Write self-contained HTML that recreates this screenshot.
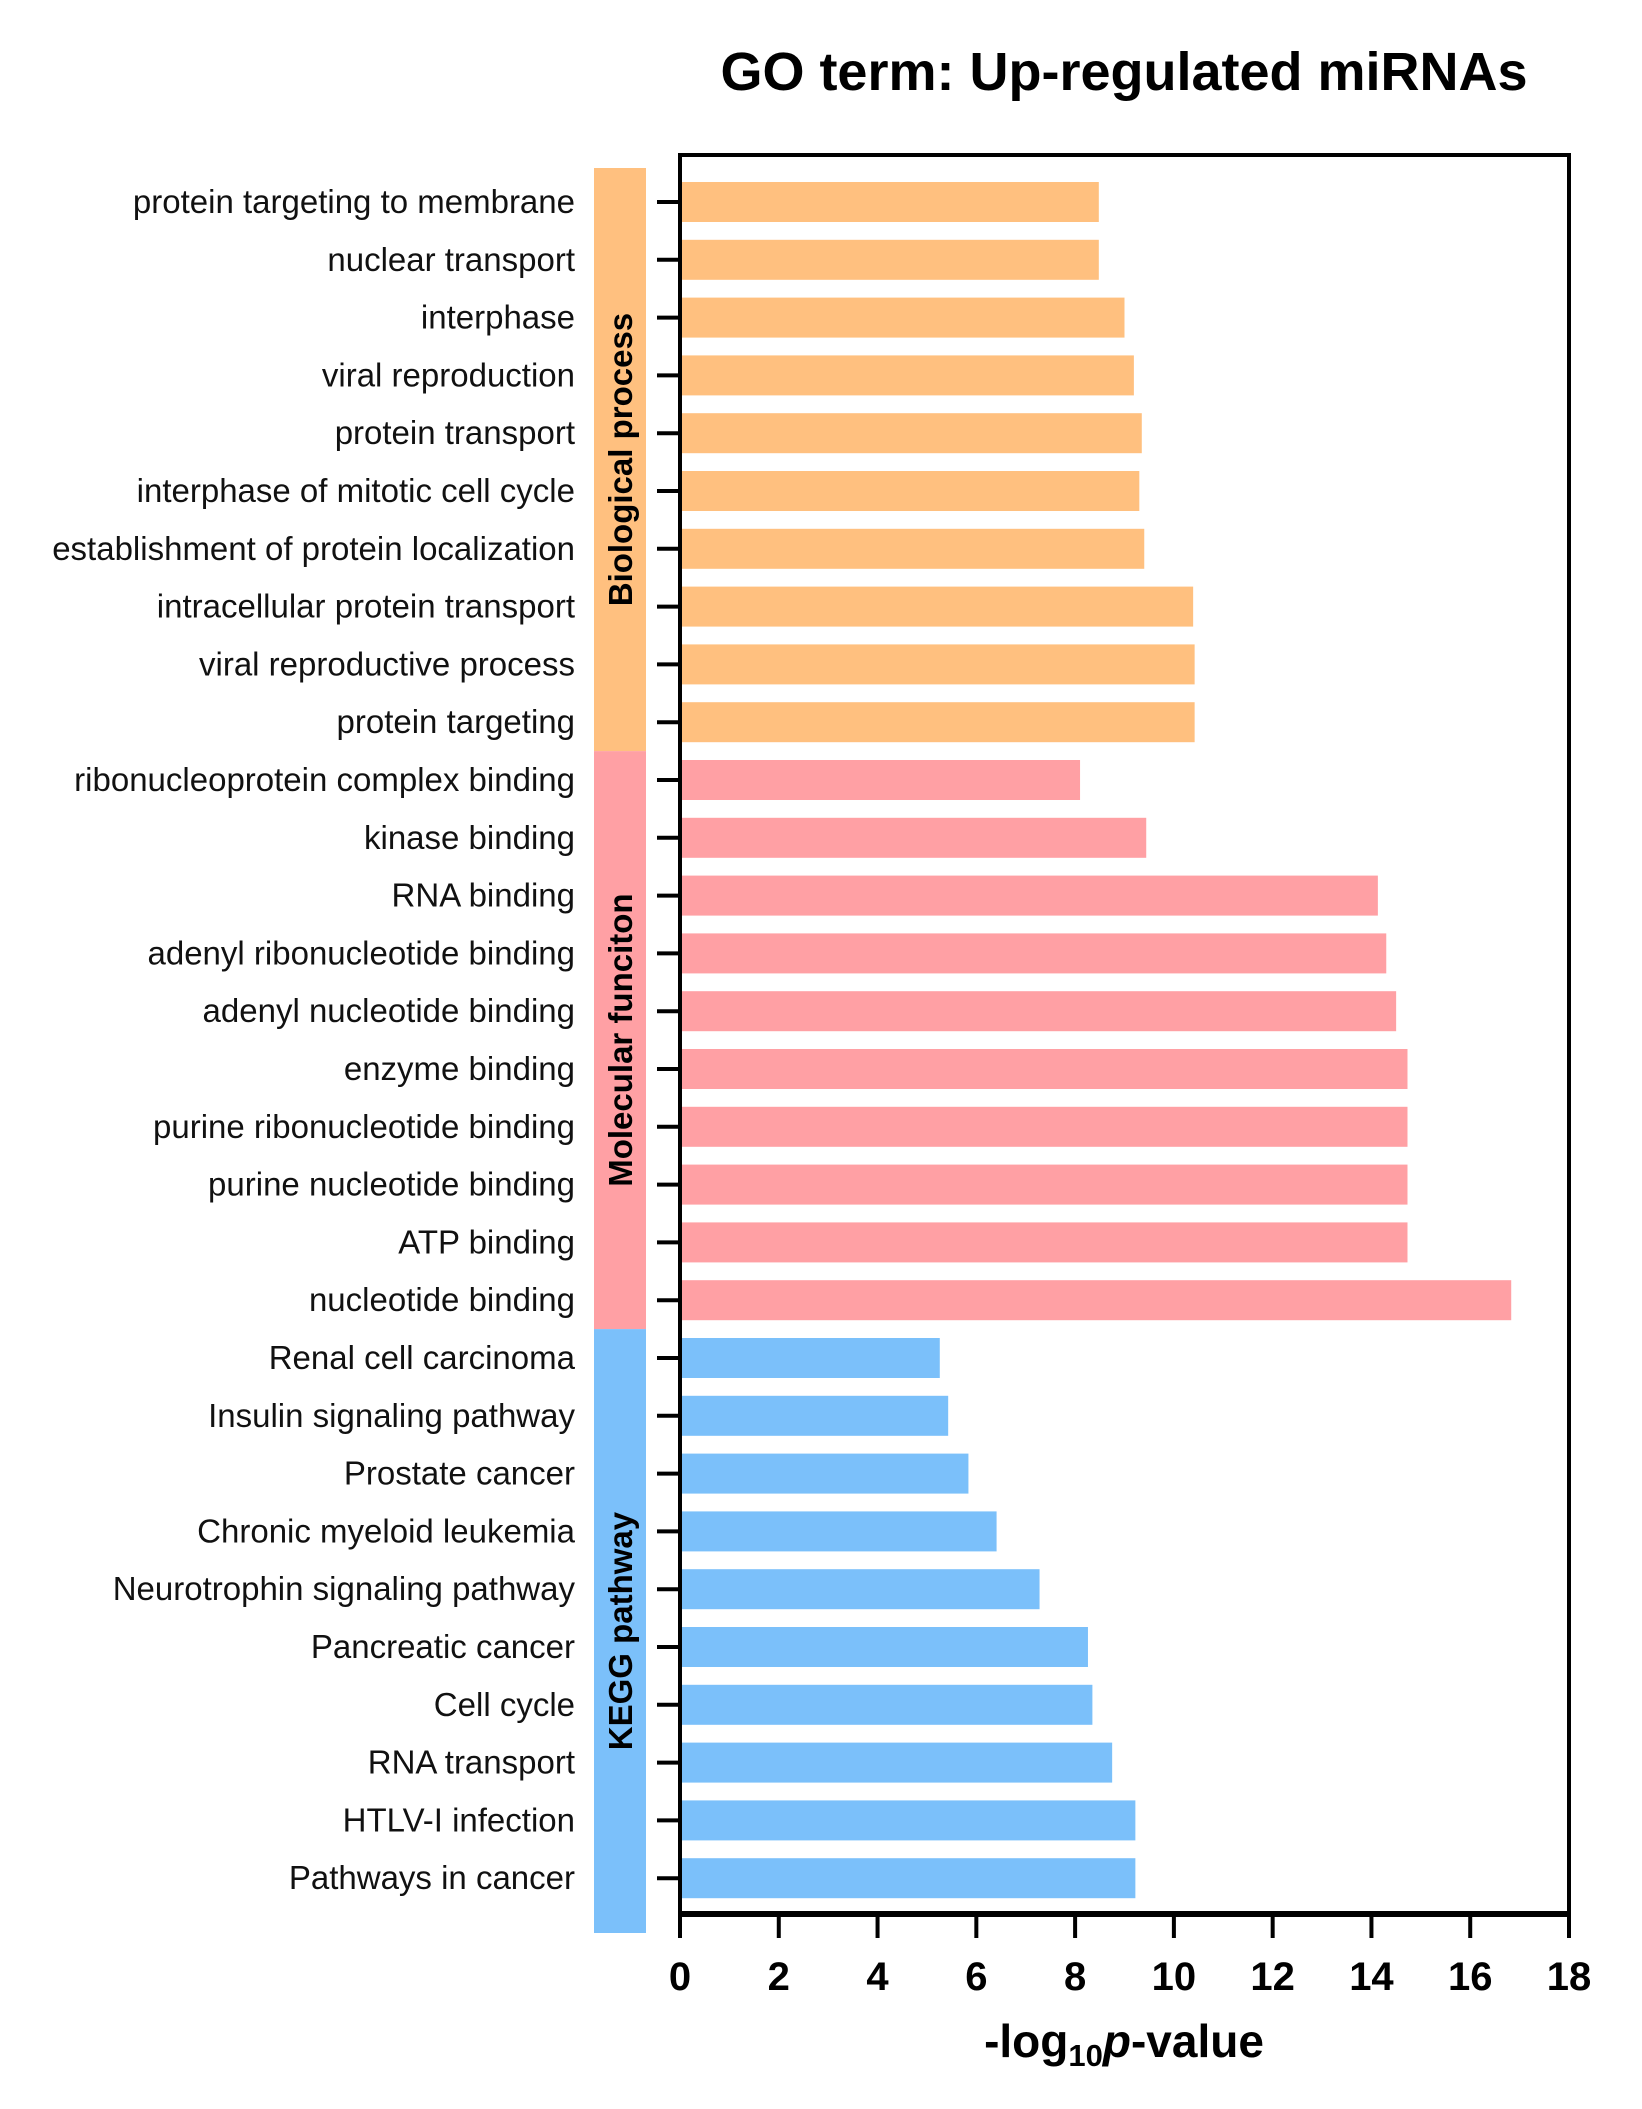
<!DOCTYPE html>
<html><head><meta charset="utf-8"><style>
html,body{margin:0;padding:0;background:#fff;}
svg{display:block;font-family:"Liberation Sans",Arial,sans-serif;}
</style></head><body>
<svg id="chart" width="1642" height="2109" viewBox="0 0 1642 2109" xmlns="http://www.w3.org/2000/svg">
<text x="1124" y="90" font-size="54" font-weight="bold" text-anchor="middle">GO term: Up-regulated miRNAs</text>
<g id="bars"></g>
<g id="strips"></g>
<g id="axes"></g>
<text x="1124" y="2057" font-size="46" font-weight="bold" text-anchor="middle">-log<tspan font-size="31" dy="9">10</tspan><tspan dy="-9" font-style="italic">p</tspan>-value</text>
</svg>
<script>
const categories = ["protein targeting to membrane","nuclear transport","interphase","viral reproduction","protein transport","interphase of mitotic cell cycle","establishment of protein localization","intracellular protein transport","viral reproductive process","protein targeting","ribonucleoprotein complex binding","kinase binding","RNA binding","adenyl ribonucleotide binding","adenyl nucleotide binding","enzyme binding","purine ribonucleotide binding","purine nucleotide binding","ATP binding","nucleotide binding","Renal cell carcinoma","Insulin signaling pathway","Prostate cancer","Chronic myeloid leukemia","Neurotrophin signaling pathway","Pancreatic cancer","Cell cycle","RNA transport","HTLV-I infection","Pathways in cancer"];
const values = [8.48,8.48,9.0,9.19,9.35,9.3,9.4,10.39,10.42,10.42,8.1,9.44,14.13,14.3,14.5,14.73,14.73,14.73,14.73,16.83,5.26,5.43,5.84,6.41,7.28,8.26,8.35,8.75,9.22,9.22];
const groups = ["Biological process","Molecular funciton","KEGG pathway"];
const groupSizes = [10,10,10];
const groupColors = ["#FFC07F","#FFA0A4","#7BC0FA"];
const xTicks = [0,2,4,6,8,10,12,14,16,18];

const NS="http://www.w3.org/2000/svg";
const X0=680,X1=1569,XMAX=18,TOP=155,BOT=1914;
const Y_FIRST=202,STEP=57.8,BAR_H=40;
const xs=v=>X0+(X1-X0)*v/XMAX;
const ys=i=>Y_FIRST+STEP*i;
function mk(tag,attrs,parent){const e=document.createElementNS(NS,tag);for(const k in attrs)e.setAttribute(k,attrs[k]);parent.appendChild(e);return e;}
const bars=document.getElementById('bars'),strips=document.getElementById('strips'),axes=document.getElementById('axes');

const groupOf=[];
groupSizes.forEach((n,g)=>{for(let k=0;k<n;k++)groupOf.push(g);});
categories.forEach((c,i)=>{
  const r=mk('rect',{x:X0,y:ys(i)-BAR_H/2,width:xs(values[i])-X0,height:BAR_H,fill:groupColors[groupOf[i]]},bars);
  
  
  const t=mk('text',{x:575,y:ys(i)+11,'font-size':33,'text-anchor':'end',fill:'#111'},bars);
  t.textContent=c;
  
  
  const tk=mk('line',{x1:657,x2:X0,y1:ys(i),y2:ys(i),stroke:'#000','stroke-width':4},axes);
  
  
});
let start=0;
groups.forEach((g,k)=>{
  const n=groupSizes[k];
  const y0=k===0?168:ys(start)-STEP/2;
  const y1=k===groups.length-1?1933:ys(start+n-1)+STEP/2;
  const r=mk('rect',{x:594,y:y0,width:52,height:y1-y0,fill:groupColors[k]},strips);
  
  
  const cy=(y0+y1)/2;
  const t=mk('text',{x:632,y:cy,'font-size':33,'font-weight':'bold','text-anchor':'middle',transform:`rotate(-90 632 ${cy})`},strips);
  t.textContent=g;
  
  
  start+=n;
});
const frame=mk('rect',{x:X0,y:TOP,width:X1-X0,height:BOT-TOP,fill:'none',stroke:'#000','stroke-width':4},axes);


const xa=mk('line',{x1:X0-2,x2:X1+2,y1:BOT,y2:BOT,stroke:'#000','stroke-width':6},axes);


xTicks.forEach(v=>{
  const l=mk('line',{x1:xs(v),x2:xs(v),y1:BOT,y2:BOT+24,stroke:'#000','stroke-width':4},axes);
  
  
  const t=mk('text',{x:xs(v),y:1990,'font-size':40,'font-weight':'bold','text-anchor':'middle'},axes);
  t.textContent=v;
  
  
});
</script>
</body></html>
